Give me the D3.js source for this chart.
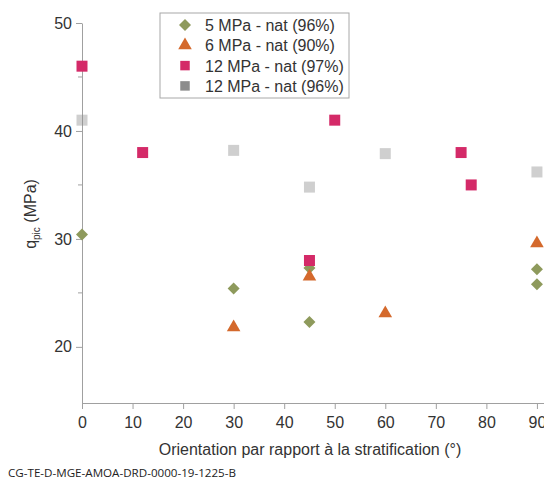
<!DOCTYPE html>
<html>
<head>
<meta charset="utf-8">
<script src="https://cdn.jsdelivr.net/npm/d3@7"></script>
<style>
  body { margin: 0; background: #fff; }
  svg { display: block; font-family: "Liberation Sans", Arial, sans-serif; }
</style>
</head>
<body>
<div id="chart"></div>
<script>
// data
const xTicks = [0, 10, 20, 30, 40, 50, 60, 70, 80, 90];
const yTicks = [20, 30, 40, 50];
const yMinor = [25, 35, 45];

const seriesNames = ["5 MPa - nat (96%)", "6 MPa - nat (90%)", "12 MPa - nat (97%)", "12 MPa - nat (96%)"];

const diamondX = [0, 30, 45, 45, 90, 90];
const diamondY = [30.4, 25.4, 22.3, 27.3, 27.2, 25.8];

const triangleX = [30, 45, 60, 90];
const triangleY = [21.8, 26.5, 23.1, 29.6];

const redX = [0, 12, 50, 45, 75, 77];
const redY = [46, 38, 41, 28, 38, 35];

const greyX = [0, 30, 45, 60, 90];
const greyY = [41, 38.2, 34.8, 37.9, 36.2];

function init() {
    const W = 544, H = 483;
    const axisCol = "#a0a0a0";
    const textCol = "#333";

    const svg = d3.select("#chart").append("svg")
        .attr("width", W)
        .attr("height", H);

    const x = d3.scaleLinear().domain([0, 91.4]).range([82, 544]);
    const y = d3.scaleLinear().domain([14.8, 50]).range([403, 23]);

    // x axis
    const gx = svg.append("g")
        .attr("transform", `translate(0, ${y(14.8)})`)
        .call(d3.axisBottom(x).tickValues(xTicks).tickSize(6).tickPadding(8).tickSizeOuter(0));
    gx.select(".domain").attr("stroke", axisCol);
    gx.selectAll(".tick line").attr("stroke", axisCol);
    gx.selectAll(".tick text")
        .attr("fill", textCol)
        .style("font-size", "16px")
        .style("font-family", "Liberation Sans, Arial, sans-serif");

    // y axis
    const gy = svg.append("g")
        .attr("transform", `translate(${x(0)}, 0)`)
        .call(d3.axisLeft(y).tickValues(yTicks).tickSize(6).tickPadding(4).tickSizeOuter(0));
    gy.select(".domain").attr("stroke", axisCol);
    gy.selectAll(".tick line").attr("stroke", axisCol);
    gy.selectAll(".tick text")
        .attr("fill", textCol)
        .style("font-size", "16px")
        .style("font-family", "Liberation Sans, Arial, sans-serif");

    // minor y ticks
    svg.append("g").selectAll("line")
        .data(yMinor)
        .enter().append("line")
        .attr("x1", x(0) - 4)
        .attr("x2", x(0))
        .attr("y1", d => y(d))
        .attr("y2", d => y(d))
        .attr("stroke", axisCol);

    // axis titles
    svg.append("text")
        .attr("x", 310)
        .attr("y", 455)
        .attr("text-anchor", "middle")
        .attr("fill", textCol)
        .style("font-size", "16px")
        .text("Orientation par rapport à la stratification (°)");

    const yl = svg.append("text")
        .attr("transform", "translate(36, 214) rotate(-90)")
        .attr("text-anchor", "middle")
        .attr("fill", textCol)
        .style("font-size", "16px");
    yl.append("tspan").text("q");
    yl.append("tspan").attr("dy", 4).style("font-size", "10px").text("pic");
    yl.append("tspan").attr("dy", -4).text(" (MPa)");

    // footer reference
    svg.append("text")
        .attr("x", 8)
        .attr("y", 477)
        .attr("fill", "#222")
        .attr("textLength", 228)
        .attr("lengthAdjust", "spacingAndGlyphs")
        .style("font-family", "Open Sans, sans-serif")
        .style("font-size", "10px")
        .text("CG-TE-D-MGE-AMOA-DRD-0000-19-1225-B");

    const colors = ["#8e9a5c", "#d4692c", "#d42a68", "#8c8c8c"];
    const sqr = d3.symbol().type(d3.symbolSquare).size(121);
    // rotated square, as wide as it is tall
    const dia = d3.symbol().type(d3.symbolSquare).size(72);
    const tri = d3.symbol().type(d3.symbolTriangle).size(80);

    // grey squares (drawn lighter than the legend swatch)
    svg.append("g").selectAll("path")
        .data(greyX.map((d, i) => [d, greyY[i]]))
        .enter().append("path")
        .attr("d", sqr)
        .attr("transform", d => `translate(${x(d[0])}, ${y(d[1])})`)
        .attr("fill", colors[3])
        .attr("fill-opacity", 0.42);

    svg.append("g").selectAll("path")
        .data(diamondX.map((d, i) => [d, diamondY[i]]))
        .enter().append("path")
        .attr("d", dia)
        .attr("transform", d => `translate(${x(d[0])}, ${y(d[1])}) rotate(45)`)
        .attr("fill", colors[0]);

    svg.append("g").selectAll("path")
        .data(triangleX.map((d, i) => [d, triangleY[i]]))
        .enter().append("path")
        .attr("d", tri)
        .attr("transform", d => `translate(${x(d[0])}, ${y(d[1])})`)
        .attr("fill", colors[1]);

    svg.append("g").selectAll("path")
        .data(redX.map((d, i) => [d, redY[i]]))
        .enter().append("path")
        .attr("d", sqr)
        .attr("transform", d => `translate(${x(d[0])}, ${y(d[1])})`)
        .attr("fill", colors[2]);

    // legend
    const legend = svg.append("g").attr("transform", "translate(160, 13)");
    legend.append("rect")
        .attr("width", 189)
        .attr("height", 85)
        .attr("fill", "#fff")
        .attr("stroke", "#a8a8a8");

    const legendSym = [dia, tri, d3.symbol().type(d3.symbolSquare).size(90), d3.symbol().type(d3.symbolSquare).size(90)];
    seriesNames.forEach((name, i) => {
        const row = legend.append("g").attr("transform", `translate(0, ${12 + i * 20.3})`);
        row.append("path")
            .attr("d", legendSym[i])
            .attr("transform", i === 0 ? "translate(25, 0) rotate(45)" : "translate(25, 0)")
            .attr("fill", colors[i]);
        row.append("text")
            .attr("x", 45)
            .attr("y", 6)
            .attr("fill", textCol)
            .style("font-size", "16px")
            .text(name);
    });
}
window.onload = init;
</script>
</body>
</html>
